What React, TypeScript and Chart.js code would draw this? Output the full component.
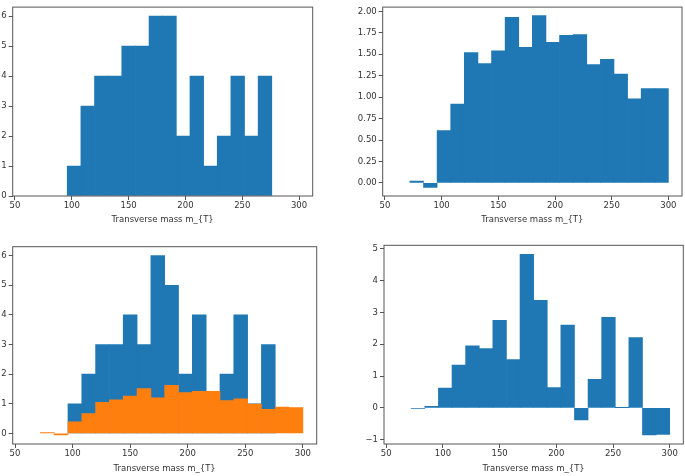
import React, { useEffect, useRef } from 'react';
import { Chart, registerables } from 'chart.js';

Chart.register(...registerables);

// ---- data ----
const binEdges = [60, 72, 84, 96, 108, 120, 132, 144, 156, 168, 180, 192, 204, 216, 228, 240, 252, 264, 276, 288, 300];
const signalCounts = [0, 0, 0, 1, 3, 4, 4, 5, 5, 6, 6, 2, 4, 1, 2, 4, 2, 4, 0, 0];
const backgroundShape = [0, 0.02, -0.053, 0.61, 0.92, 1.52, 1.39, 1.54, 1.93, 1.58, 1.95, 1.64, 1.72, 1.73, 1.38, 1.44, 1.27, 0.98, 1.1, 1.1];
const observedCounts = [0, 0, 0, 1, 2, 3, 3, 4, 3, 6, 5, 2, 4, 1, 2, 4, 1, 3, 0, 0];
const backgroundScaled = [0, 0.03, -0.056, 0.39, 0.67, 1.05, 1.13, 1.26, 1.51, 1.2, 1.62, 1.38, 1.42, 1.42, 1.11, 1.17, 0.99, 0.81, 0.89, 0.87];
const observedMinusBackground = [0, -0.02, 0.05, 0.62, 1.34, 1.95, 1.86, 2.75, 1.52, 4.82, 3.38, 0.64, 2.6, -0.38, 0.9, 2.84, 0.01, 2.21, -0.85, -0.83];
const xTickStep = 50;
const xLabel = 'Transverse mass m_{T}';

const BLUE = '#1f77b4';
const ORANGE = '#ff7f0e';
const TEXT = '#333333';
const AXIS = '#555555';
const FONT = 'DejaVu Sans';

type Series = { values: number[]; color: string; order: number };

type PanelProps = {
  left: number;
  top: number;
  width: number;
  height: number;
  frameLeft: number;
  frameTop: number;
  frameRight: number;
  frameBottom: number;
  series: Series[];
  yStep: number;
  yDecimals: number;
};

const toPoints = (vals: number[]) =>
  vals.map((v, i) => ({ x: (binEdges[i] + binEdges[i + 1]) / 2, y: v === 0 ? null : v }));

function Panel(p: PanelProps) {
  const ref = useRef<HTMLCanvasElement | null>(null);
  useEffect(() => {
    if (!ref.current) return;
    const all = p.series.flatMap((s) => s.values);
    const lo = Math.min(0, ...all);
    const hi = Math.max(...all);
    const pad = (hi - lo) * 0.05;
    const yMin = lo < 0 ? lo - pad : 0;
    const yMax = hi + pad;
    const xSpan = binEdges[binEdges.length - 1] - binEdges[0];
    const xMin = binEdges[0] - xSpan * 0.05;
    const xMax = binEdges[binEdges.length - 1] + xSpan * 0.05;
    const fmt = (v: number) => (v < 0 ? '\u2212' + Math.abs(v).toFixed(p.yDecimals) : v.toFixed(p.yDecimals));
    const font = { family: FONT, size: 8.5 };
    const chart = new Chart(ref.current, {
      type: 'bar',
      data: {
        datasets: p.series.map((s) => ({
          data: toPoints(s.values),
          backgroundColor: s.color,
          borderWidth: 0,
          barPercentage: 1,
          categoryPercentage: 1,
          grouped: false,
          order: s.order,
        })) as any,
      },
      options: {
        responsive: false,
        animation: false,
        devicePixelRatio: 1,
        layout: {
          padding: {
            top: p.frameTop - p.top,
            right: p.left + p.width - p.frameRight,
            left: 0,
            bottom: 0,
          },
        },
        plugins: { legend: { display: false }, tooltip: { enabled: false } },
        scales: {
          x: {
            type: 'linear',
            min: xMin,
            max: xMax,
            offset: false,
            afterFit: (s: any) => {
              s.height = p.top + p.height - p.frameBottom;
            },
            ticks: {
              stepSize: xTickStep,
              includeBounds: false,
              autoSkip: false,
              maxRotation: 0,
              padding: 1,
              color: TEXT,
              font,
              callback: (v: any) => String(v),
            },
            grid: { display: true, drawOnChartArea: false, drawTicks: true, tickLength: 4, tickColor: AXIS, offset: false },
            border: { display: false },
            title: { display: true, text: xLabel, color: TEXT, font, padding: 0 },
          },
          y: {
            type: 'linear',
            min: yMin,
            max: yMax,
            afterFit: (s: any) => {
              s.width = p.frameLeft - p.left;
            },
            ticks: {
              stepSize: p.yStep,
              includeBounds: false,
              padding: 2,
              color: TEXT,
              font,
              callback: (v: any) => fmt(Number(v)),
            },
            grid: { display: true, drawOnChartArea: false, drawTicks: true, tickLength: 4, tickColor: AXIS },
            border: { display: false },
          },
        },
      } as any,
      plugins: [
        {
          id: 'frame',
          afterDatasetsDraw(c: any) {
            const { ctx, chartArea: a } = c;
            ctx.save();
            ctx.strokeStyle = AXIS;
            ctx.lineWidth = 1;
            ctx.strokeRect(a.left, a.top, a.right - a.left, a.bottom - a.top);
            ctx.restore();
          },
        },
      ],
    });
    return () => chart.destroy();
  }, []);
  return (
    <canvas
      ref={ref}
      width={p.width}
      height={p.height}
      style={{ position: 'absolute', left: p.left, top: p.top, width: p.width, height: p.height }}
    />
  );
}

export default function App() {
  return (
    <div style={{ position: 'absolute', left: 0, top: 0, width: 685, height: 476, background: '#ffffff', overflow: 'hidden' }}>
      <Panel
        left={0} top={0} width={320} height={225}
        frameLeft={12.7} frameTop={1.5} frameRight={312.7} frameBottom={196}
        series={[{ values: signalCounts, color: BLUE, order: 1 }]}
        yStep={1} yDecimals={0}
      />
      <Panel
        left={340} top={0} width={345} height={225}
        frameLeft={382.7} frameTop={2.7} frameRight={682} frameBottom={196}
        series={[{ values: backgroundShape, color: BLUE, order: 1 }]}
        yStep={0.25} yDecimals={2}
      />
      <Panel
        left={0} top={238} width={320} height={236}
        frameLeft={12.7} frameTop={246.7} frameRight={316.7} frameBottom={444}
        series={[
          { values: observedCounts, color: BLUE, order: 2 },
          { values: backgroundScaled, color: ORANGE, order: 1 },
        ]}
        yStep={1} yDecimals={0}
      />
      <Panel
        left={340} top={238} width={345} height={236}
        frameLeft={384} frameTop={245.3} frameRight={683.3} frameBottom={444}
        series={[{ values: observedMinusBackground, color: BLUE, order: 1 }]}
        yStep={1} yDecimals={0}
      />
    </div>
  );
}
